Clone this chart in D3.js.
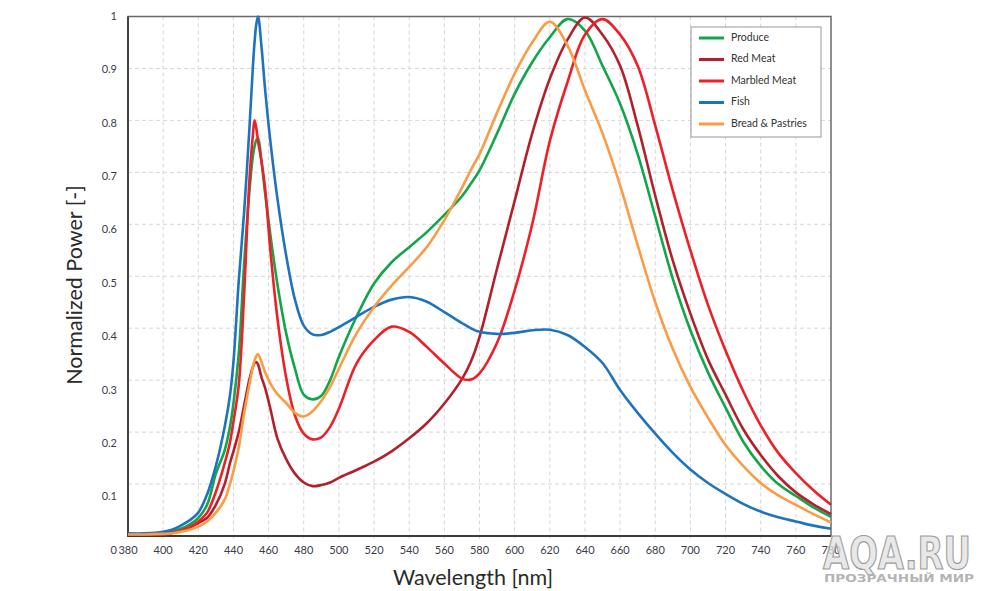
<!DOCTYPE html>
<html><head><meta charset="utf-8">
<script src="https://cdn.jsdelivr.net/npm/d3@7"></script>
<style>
html,body{margin:0;padding:0;background:#fff;}
svg{display:block;font-family:Lato,"Open Sans",sans-serif;}
</style></head>
<body><svg id="chart" width="985" height="591"></svg>
<script>
const wavelengths = [380,390,400,405,410,415,420,425,430,435,438,440,443,446,449,451,452,453,454,456,458,461,465,470,475,480,485,490,495,500,510,520,530,540,550,560,570,575,580,590,600,610,620,630,640,650,660,670,680,690,700,710,720,730,740,750,760,770,780];

const produce = [.003,.004,.006,.009,.014,.022,.035,.06,.12,.165,.21,.255,.35,.52,.66,.73,.75,.762,.765,.72,.66,.58,.485,.39,.322,.272,.263,.27,.3,.345,.422,.486,.527,.556,.585,.618,.654,.678,.704,.775,.851,.912,.96,.995,.973,.905,.832,.735,.615,.495,.396,.315,.247,.182,.135,.1,.077,.055,.037];

const redMeat = [.003,.003,.004,.006,.01,.016,.025,.035,.06,.1,.14,.163,.2,.25,.3,.325,.333,.335,.33,.305,.285,.245,.188,.148,.12,.103,.096,.098,.103,.112,.127,.143,.163,.188,.217,.255,.302,.335,.383,.515,.645,.775,.88,.955,.998,.965,.905,.79,.655,.53,.428,.34,.272,.206,.156,.115,.084,.061,.042];

const marbledMeat = [.003,.003,.004,.006,.01,.017,.028,.045,.085,.14,.18,.22,.29,.46,.68,.77,.8,.785,.76,.72,.67,.55,.42,.305,.232,.197,.186,.19,.21,.245,.332,.377,.403,.393,.364,.332,.303,.301,.313,.372,.473,.6,.76,.873,.965,.995,.965,.905,.79,.665,.55,.445,.357,.279,.213,.16,.121,.088,.06];

const fish = [.005,.005,.008,.012,.02,.03,.045,.08,.135,.21,.27,.335,.49,.62,.78,.9,.95,.985,1.0,.94,.86,.76,.65,.54,.455,.405,.388,.387,.393,.402,.422,.441,.455,.46,.451,.431,.41,.4,.393,.389,.391,.396,.397,.387,.364,.333,.281,.237,.197,.16,.128,.102,.081,.062,.047,.036,.028,.02,.014];

const breadPastries = [.003,.003,.004,.005,.008,.012,.018,.028,.045,.07,.1,.125,.17,.235,.29,.325,.338,.346,.35,.335,.315,.294,.273,.256,.237,.23,.24,.26,.287,.322,.39,.441,.482,.518,.556,.608,.67,.704,.735,.815,.89,.95,.99,.945,.858,.775,.675,.56,.45,.36,.287,.228,.175,.135,.102,.078,.06,.042,.026];

const seriesNames = ["Produce","Red Meat","Marbled Meat","Fish","Bread & Pastries"];
const seriesColors = ["#12a54a","#b3202c","#ee1f26","#1e73be","#f99c45"];
const seriesValues = [produce, redMeat, marbledMeat, fish, breadPastries];

const xTicks = [380,400,420,440,460,480,500,520,540,560,580,600,620,640,660,680,700,720,740,760,780];
const yTicks = [0,0.1,0.2,0.3,0.4,0.5,0.6,0.7,0.8,0.9,1];
const yTickLabels = ["0","0.1","0.2","0.3","0.4","0.5","0.6","0.7","0.8","0.9","1"];

const svg = d3.select("#chart");
const x = d3.scaleLinear().domain([380,780]).range([128,831]);
const y = d3.scaleLinear().domain([0,1]).range([536,16.5]);
const yLabel = d3.scaleLinear().domain([0,1]).range([551,17]);

// grid
const grid = svg.append("g").attr("stroke","#d6d6d6").attr("stroke-dasharray","4,3").attr("stroke-width",1);
grid.selectAll("line.v").data(xTicks.slice(1,-1)).join("line")
  .attr("x1",d=>x(d)).attr("x2",d=>x(d)).attr("y1",y(1)).attr("y2",y(0)+4);
grid.selectAll("line.h").data(yTicks.slice(1,-1)).join("line")
  .attr("x1",x(380)).attr("x2",x(780)).attr("y1",d=>y(d)).attr("y2",d=>y(d));

// border
svg.append("rect").attr("x",x(380)).attr("y",y(1)).attr("width",x(780)-x(380)).attr("height",y(0)-y(1))
  .attr("fill","none").attr("stroke","#6a6a6a").attr("stroke-width",1.5);
svg.append("path").attr("d",`M${x(380)},${y(1)}V${y(0)}H${x(780)}`).attr("fill","none").attr("stroke","#3a3a3a").attr("stroke-width",1.8);

// lines
const line = d3.line().x(d=>x(d[0])).y(d=>y(d[1])).curve(d3.curveCatmullRom.alpha(0.5));
seriesValues.forEach((vals,i)=>{
  svg.append("path").datum(wavelengths.map((w,j)=>[w,vals[j]]))
    .attr("d",line).attr("fill","none").attr("stroke",seriesColors[i]).attr("stroke-width",2.6)
    .attr("stroke-linejoin","round");
});

// tick labels
const tc = "#3b3b4a";
svg.append("g").selectAll("text").data(xTicks).join("text")
  .attr("x",d=>x(d)).attr("y",551).attr("text-anchor","middle").attr("dominant-baseline","middle")
  .attr("font-size",11).attr("fill",tc).text(d=>d);
svg.append("g").selectAll("text").data(yTicks).join("text")
  .attr("x",117).attr("y",d=>yLabel(d)).attr("text-anchor","end").attr("dominant-baseline","middle")
  .attr("font-size",11).attr("fill",tc).text((d,i)=>yTickLabels[i]);

// axis titles
svg.append("text").attr("x",473).attr("y",580).attr("text-anchor","middle").attr("dominant-baseline","middle")
  .attr("font-size",21.5).attr("fill","#2a2a2a").text("Wavelength [nm]");
svg.append("text").attr("transform","translate(77,285) rotate(-90)").attr("text-anchor","middle").attr("dominant-baseline","middle")
  .attr("font-size",21.5).attr("fill","#2a2a2a").text("Normalized Power [-]");

// legend
const lg = svg.append("g");
lg.append("rect").attr("x",691).attr("y",27).attr("width",130).attr("height",110)
  .attr("fill","#fff").attr("stroke","#a8a8a8").attr("stroke-width",1.2);
seriesNames.forEach((n,i)=>{
  const yy = 38 + i*21.5;
  lg.append("line").attr("x1",699).attr("x2",724).attr("y1",yy).attr("y2",yy)
    .attr("stroke",seriesColors[i]).attr("stroke-width",3);
  lg.append("text").attr("x",731).attr("y",yy).attr("dominant-baseline","middle")
    .attr("font-size",10.5).attr("fill","#333").text(n);
});

// watermark
svg.append("text").attr("x",823).attr("y",569).attr("font-size",44).attr("font-weight","bold")
  .attr("font-family","'DejaVu Sans Condensed','Liberation Sans Narrow',sans-serif")
  .attr("textLength",148).attr("lengthAdjust","spacingAndGlyphs")
  .attr("fill","#e2e2e2").attr("stroke","#9c9c9c").attr("stroke-width",1.2).attr("fill-opacity",0.8).text("AQA.RU");
svg.append("text").attr("x",824).attr("y",582).attr("font-size",10.5).attr("font-weight","bold")
  .attr("font-family","'DejaVu Sans',sans-serif")
  .attr("textLength",150).attr("lengthAdjust","spacingAndGlyphs")
  .attr("fill","#b4b4b4").text("ПРОЗРАЧНЫЙ МИР");
</script></body></html>
